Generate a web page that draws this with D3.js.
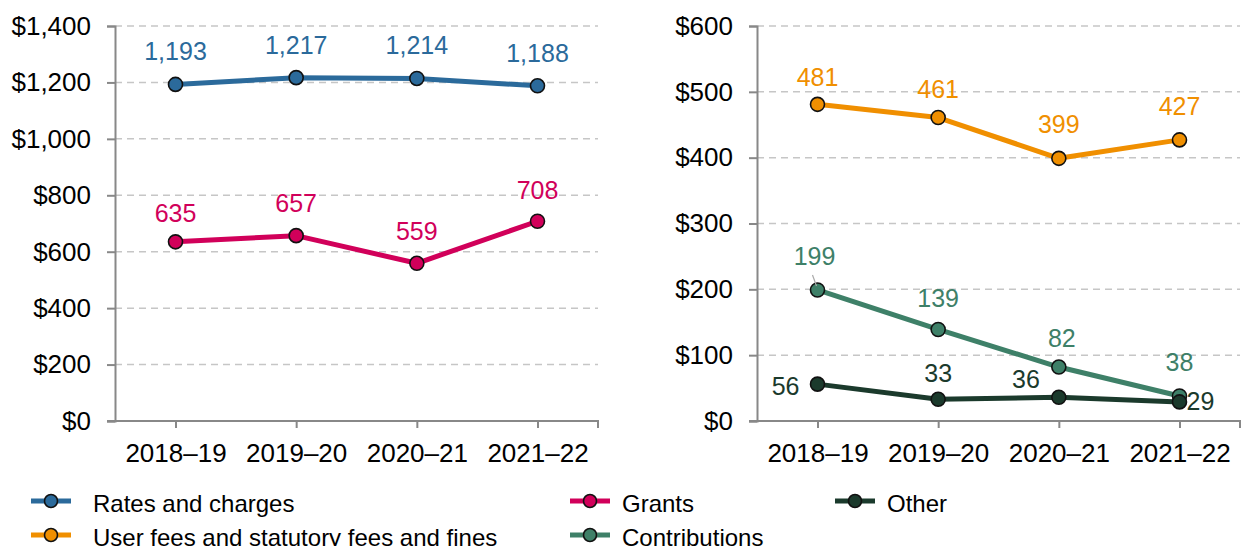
<!DOCTYPE html>
<html>
<head>
<meta charset="utf-8">
<script src="https://cdn.jsdelivr.net/npm/d3@7"></script>
<style>
  html, body { margin: 0; padding: 0; background: #fff; }
  svg { display: block; font-family: "Liberation Sans", Arial, sans-serif; }
</style>
</head>
<body>
<svg id="chart" width="1241" height="546"></svg>
<script>
// ---- data ----
const categories = ["2018–19", "2019–20", "2020–21", "2021–22"];
const ratesAndCharges = [1193, 1217, 1214, 1188];
const grants = [635, 657, 559, 708];
const userFees = [481, 461, 399, 427];
const contributions = [199, 139, 82, 38];
const other = [56, 33, 36, 29];
const leftTicks = [0, 200, 400, 600, 800, 1000, 1200, 1400];
const rightTicks = [0, 100, 200, 300, 400, 500, 600];

// ---- label placement (layout only: [dx, dy, anchor, leader]) ----
const ratesLabelLayout = [[0, -24, "middle"], [0, -24, "middle"], [0, -24, "middle"], [0, -24, "middle"]];
const grantsLabelLayout = [[0, -20, "middle"], [0, -24, "middle"], [0, -23, "middle"], [0, -22, "middle"]];
const userFeesLabelLayout = [[0, -18, "middle"], [0, -20, "middle"], [0, -25, "middle"], [0, -25, "middle"]];
const contribLabelLayout = [[-3, -25, "middle", true], [0, -22, "middle"], [3, -20, "middle"], [0, -25, "middle"]];
const otherLabelLayout = [[-18, 11, "end"], [0, -17, "middle"], [-19, -9, "end"], [7, 8, "start"]];

const colors = {
  rates: "#2B6A9B",
  grants: "#D1005A",
  userFees: "#F08F00",
  contributions: "#3E8068",
  other: "#1B3A2C"
};

const svg = d3.select("#chart");
const H0 = 421, HTOP = 26;

function panel(cfg) {
  const g = svg.append("g");
  const x = d3.scalePoint().domain(categories).range([cfg.x0 + cfg.step / 2, cfg.x1 - cfg.step / 2]);
  const y = d3.scaleLinear().domain([0, cfg.max]).range([H0, HTOP]);

  // gridlines
  g.selectAll(".grid").data(cfg.ticks.filter(t => t > 0)).join("line")
    .attr("x1", cfg.x0).attr("x2", cfg.x1)
    .attr("y1", d => y(d)).attr("y2", d => y(d))
    .attr("stroke", "#c6c6c6").attr("stroke-width", 1.5).attr("stroke-dasharray", "7,5");

  // y axis
  const yAxis = d3.axisLeft(y).tickValues(cfg.ticks).tickSize(8).tickPadding(16)
    .tickFormat(d => "$" + d3.format(",")(d));
  const ya = g.append("g").attr("transform", `translate(${cfg.x0},0)`).call(yAxis);
  ya.select(".domain").attr("stroke", "#888").attr("stroke-width", 2);
  ya.selectAll(".tick line").attr("stroke", "#888").attr("stroke-width", 2);
  ya.selectAll(".tick text").attr("font-size", 26).attr("fill", "#000")
    .attr("font-family", "Liberation Sans, Arial, sans-serif");

  // x axis
  const xAxis = d3.axisBottom(x).tickSize(7).tickPadding(15.5).tickSizeOuter(0);
  const xa = g.append("g").attr("transform", `translate(0,${H0})`).call(xAxis);
  xa.select(".domain").attr("stroke", "#888").attr("stroke-width", 2)
    .attr("d", `M${cfg.x0 - 8},0H${cfg.x1}V7`);
  xa.selectAll(".tick line").attr("stroke", "#888").attr("stroke-width", 2);
  xa.selectAll(".tick text").attr("font-size", 26).attr("fill", "#000")
    .attr("font-family", "Liberation Sans, Arial, sans-serif");

  const line = d3.line().x((d, i) => x(categories[i])).y(d => y(d));

  cfg.series.forEach(s => {
    g.append("path").datum(s.values).attr("d", line)
      .attr("fill", "none").attr("stroke", s.color).attr("stroke-width", 5)
      .attr("stroke-linejoin", "round");
  });
  cfg.series.forEach(s => {
    g.selectAll(null).data(s.values).join("circle")
      .attr("cx", (d, i) => x(categories[i])).attr("cy", d => y(d)).attr("r", 7)
      .attr("fill", s.color).attr("stroke", "#111").attr("stroke-width", 1.6);
  });
  cfg.series.forEach(s => {
    s.values.forEach((v, i) => {
      const [dx, dy, anchor, leader] = s.layout[i];
      const px = x(categories[i]), py = y(v);
      if (leader) {
        g.append("line").attr("x1", px - 5).attr("y1", py - 15).attr("x2", px - 1).attr("y2", py - 4)
          .attr("stroke", "#aaa").attr("stroke-width", 1.2);
      }
      g.append("text").attr("x", px + dx).attr("y", py + dy).attr("text-anchor", anchor)
        .attr("font-size", 25).attr("fill", s.color).text(d3.format(",")(v));
    });
  });
}

panel({
  x0: 115, x1: 598, step: 121, max: 1400, ticks: leftTicks,
  series: [
    { values: ratesAndCharges, color: colors.rates, layout: ratesLabelLayout },
    { values: grants, color: colors.grants, layout: grantsLabelLayout }
  ]
});

panel({
  x0: 757, x1: 1240, step: 121, max: 600, ticks: rightTicks,
  series: [
    { values: userFees, color: colors.userFees, layout: userFeesLabelLayout },
    { values: contributions, color: colors.contributions, layout: contribLabelLayout },
    { values: other, color: colors.other, layout: otherLabelLayout }
  ]
});

// legend
const legendItems = [
  { name: "Rates and charges", color: colors.rates, x: 31, tx: 93, y: 501 },
  { name: "Grants", color: colors.grants, x: 570, tx: 622, y: 501 },
  { name: "Other", color: colors.other, x: 835, tx: 887, y: 501 },
  { name: "User fees and statutory fees and fines", color: colors.userFees, x: 31, tx: 93, y: 535 },
  { name: "Contributions", color: colors.contributions, x: 570, tx: 622, y: 535 }
];
const lg = svg.append("g");
legendItems.forEach(it => {
  lg.append("line").attr("x1", it.x).attr("x2", it.x + 40).attr("y1", it.y).attr("y2", it.y)
    .attr("stroke", it.color).attr("stroke-width", 5);
  lg.append("circle").attr("cx", it.x + 20).attr("cy", it.y).attr("r", 6.5)
    .attr("fill", it.color).attr("stroke", "#111").attr("stroke-width", 1.6);
  lg.append("text").attr("x", it.tx).attr("y", it.y + 11)
    .attr("font-size", 24).attr("fill", "#000").text(it.name);
});
</script>
</body>
</html>
